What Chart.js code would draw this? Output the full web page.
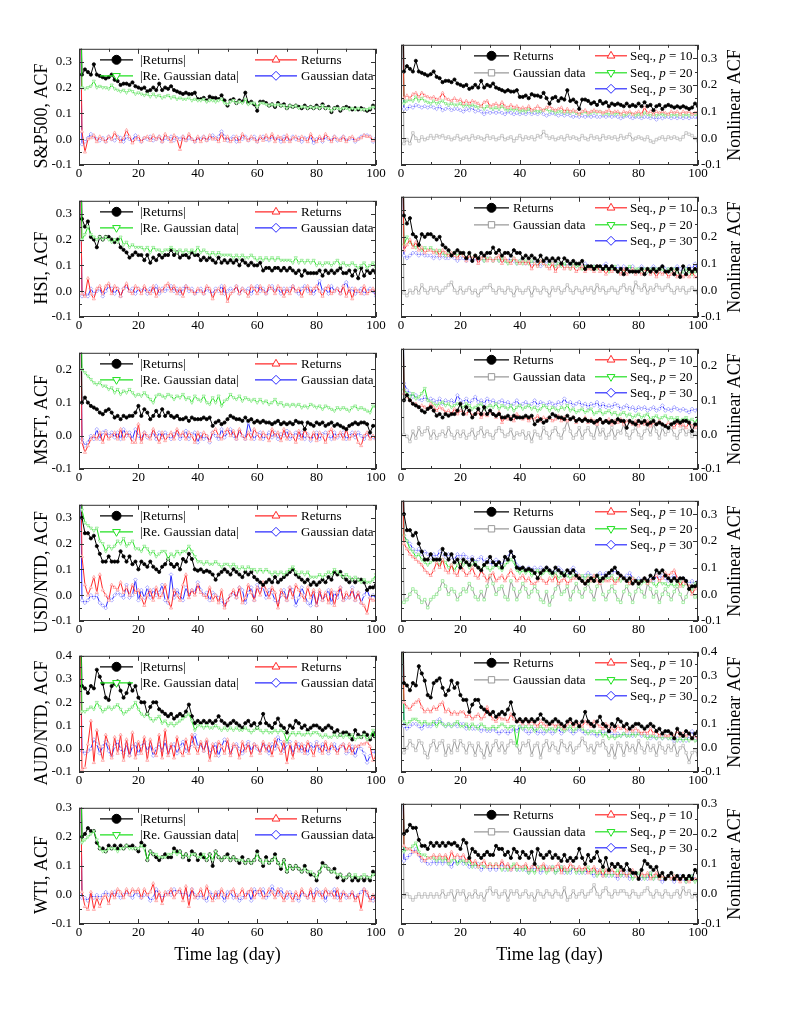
<!DOCTYPE html>
<html>
<head>
<meta charset="utf-8">
<script src="https://cdn.jsdelivr.net/npm/chart.js@4.4.0/dist/chart.umd.min.js"></script>
<style>
body { margin: 0; background: #fff; }
#wrap { position: relative; width: 797px; height: 1032px; }
#wrap canvas { position: absolute; }
</style>
</head>
<body>
<div id="wrap"></div>
<script>
const lags = Array.from({ length: 101 }, (_, i) => i);
const xTicks = [0, 20, 40, 60, 80, 100];
const ticks035 = [-0.1, 0, 0.1, 0.2, 0.3];
const ticks025 = [-0.1, 0, 0.1, 0.2];
const ticks04 = [-0.1, 0, 0.1, 0.2, 0.3, 0.4];
const ticks03 = [-0.1, 0, 0.1, 0.2, 0.3];

// S&P500
const spAbs = [1,
 .25,.27,.26,.25,.29,.25,.245,.24,.235,.24,
 .25,.23,.225,.21,.215,.215,.21,.22,.205,.20,
 .195,.20,.185,.19,.20,.19,.215,.19,.20,.195,
 .205,.19,.185,.18,.175,.18,.175,.175,.18,.155,
 .155,.16,.15,.165,.16,.16,.155,.17,.15,.13,
 .15,.155,.14,.15,.145,.18,.14,.145,.135,.11,
 .145,.145,.14,.13,.135,.125,.14,.13,.135,.12,
 .13,.125,.13,.125,.12,.13,.12,.125,.12,.13,
 .12,.135,.12,.125,.105,.12,.125,.11,.12,.125,
 .12,.115,.12,.115,.12,.115,.11,.115,.13,.12];
const spReG = [1,
 .20,.195,.20,.205,.225,.20,.205,.20,.20,.195,
 .21,.195,.19,.185,.19,.18,.19,.185,.175,.18,
 .175,.17,.175,.165,.175,.165,.17,.16,.165,.17,
 .16,.165,.155,.16,.155,.155,.16,.15,.155,.15,
 .15,.155,.145,.15,.15,.145,.15,.155,.14,.135,
 .145,.15,.14,.145,.14,.155,.135,.14,.14,.125,
 .14,.14,.135,.13,.135,.13,.135,.13,.13,.12,
 .13,.125,.13,.12,.125,.125,.12,.125,.12,.125,
 .12,.13,.12,.12,.11,.12,.12,.115,.12,.12,
 .115,.12,.115,.12,.115,.115,.115,.12,.125,.12];
const spRet = [1,
 .03,-.05,0,.005,.015,-.01,.01,0,-.01,.01,
 0,.025,.005,-.01,.005,.035,.01,-.015,0,.01,
 -.01,.005,.01,-.005,.015,0,.01,-.01,.02,.005,
 -.01,.015,0,-.04,.01,-.005,.02,0,-.01,.01,
 -.01,.01,-.005,.015,0,.005,-.01,.02,-.005,.01,
 -.01,0,.01,-.01,.02,.005,-.005,.01,0,-.01,
 .01,-.005,.015,0,.02,-.01,.01,.005,-.01,.015,
 -.01,.005,.01,-.005,.01,0,-.01,.02,0,-.01,
 .01,-.005,.02,.005,-.01,.01,0,-.005,.01,-.01,
 .005,.01,-.005,0,.005,.015,.01,.01,-.005,0];
const spGau = [1,
 -.02,-.01,.005,.02,.01,0,-.005,.005,-.01,.01,
 0,-.005,.01,.005,-.01,.01,0,-.005,.015,0,
 -.01,.005,0,.01,-.005,0,.01,-.01,.005,0,
 .01,-.005,.005,0,.01,-.005,.005,0,-.01,.005,
 0,.01,-.005,.005,.015,0,.01,.03,.01,-.005,
 0,.01,-.01,.005,0,.01,-.005,.005,.01,-.01,
 .005,.01,0,-.005,.01,0,.005,-.01,.01,0,
 -.005,.01,0,.005,-.01,.005,0,.01,-.015,0,
 .005,-.01,.01,0,-.005,.01,-.005,0,.01,-.005,
 0,.005,-.01,0,.01,.015,.015,.01,-.01,.005];
const spNG = [1,
 -.02,-.005,-.02,.02,0,-.01,.005,-.005,0,.01,
 0,.01,.005,.01,0,.005,-.005,0,.01,-.005,
 0,.005,-.005,.01,0,.005,0,-.005,.01,0,
 .005,-.005,0,.01,-.005,0,.005,-.01,0,.01,
 -.005,.005,0,.005,-.005,.01,.005,.025,.01,0,
 .005,-.005,0,.005,-.005,.01,0,.005,0,-.005,
 .01,0,-.005,.01,0,.005,-.005,.01,0,.005,
 0,.005,-.005,.01,0,.005,.015,-.005,0,.005,
 0,-.005,.005,-.01,-.015,-.005,0,.005,-.005,.005,
 0,.005,0,-.005,.005,.02,.015,.01,0,-.01];
const spS10 = [1,
 .15,.16,.15,.165,.17,.155,.17,.16,.155,.15,
 .155,.145,.15,.17,.15,.145,.14,.15,.14,.145,
 .13,.14,.13,.14,.135,.13,.12,.135,.14,.12,
 .125,.13,.12,.135,.12,.115,.125,.115,.12,.11,
 .115,.11,.12,.105,.11,.12,.11,.105,.115,.12,
 .11,.105,.11,.115,.10,.11,.10,.105,.10,.09,
 .10,.105,.095,.10,.105,.10,.10,.095,.10,.105,
 .095,.10,.10,.09,.10,.095,.10,.09,.095,.10,
 .09,.115,.095,.10,.09,.10,.095,.10,.095,.09,
 .10,.095,.10,.09,.10,.095,.10,.09,.095,.10];
const spS20 = [1,
 .13,.14,.145,.14,.155,.14,.15,.14,.135,.13,
 .14,.13,.135,.14,.13,.125,.13,.125,.125,.13,
 .12,.125,.12,.125,.12,.115,.12,.11,.12,.115,
 .11,.115,.11,.12,.11,.105,.11,.105,.11,.10,
 .105,.10,.11,.10,.105,.10,.10,.105,.11,.10,
 .105,.095,.10,.10,.095,.10,.095,.10,.095,.09,
 .095,.10,.09,.095,.10,.095,.10,.09,.095,.09,
 .095,.09,.095,.09,.085,.09,.095,.09,.085,.09,
 .085,.095,.09,.085,.09,.085,.09,.09,.085,.09,
 .085,.09,.085,.09,.085,.09,.085,.09,.09,.085];
const spS30 = [1,
 .11,.11,.12,.115,.125,.12,.115,.12,.115,.12,
 .115,.11,.12,.105,.11,.115,.105,.11,.11,.105,
 .10,.11,.105,.115,.10,.105,.10,.09,.10,.095,
 .10,.095,.10,.095,.09,.10,.095,.09,.095,.09,
 .095,.09,.10,.09,.095,.09,.10,.09,.085,.09,
 .095,.09,.085,.09,.085,.09,.085,.08,.085,.08,
 .085,.08,.085,.08,.085,.08,.08,.085,.08,.085,
 .08,.085,.08,.075,.08,.085,.08,.075,.08,.08,
 .075,.08,.08,.075,.08,.07,.08,.075,.08,.08,
 .075,.08,.075,.08,.075,.08,.075,.08,.08,.075];

// HSI
const hsiAbs = [1,
 .28,.25,.27,.21,.20,.17,.21,.20,.21,.21,
 .20,.19,.20,.17,.16,.15,.13,.14,.15,.14,
 .14,.12,.14,.11,.13,.12,.14,.13,.14,.14,
 .16,.14,.15,.13,.14,.14,.13,.15,.14,.14,
 .12,.13,.12,.13,.12,.11,.13,.11,.12,.11,
 .12,.11,.12,.10,.12,.11,.10,.11,.10,.10,
 .11,.08,.09,.09,.08,.09,.09,.08,.09,.08,
 .09,.08,.07,.08,.06,.08,.07,.07,.07,.07,
 .08,.06,.08,.07,.08,.07,.08,.09,.07,.07,
 .08,.06,.08,.05,.09,.06,.08,.07,.08,.07];
const hsiReG = [1,
 .20,.22,.25,.22,.21,.20,.21,.20,.21,.20,
 .19,.20,.19,.21,.18,.19,.17,.18,.17,.17,
 .17,.16,.17,.15,.17,.16,.16,.15,.16,.16,
 .17,.16,.15,.16,.15,.16,.15,.16,.15,.17,
 .15,.16,.15,.14,.15,.14,.15,.14,.14,.14,
 .14,.13,.14,.13,.14,.13,.13,.14,.13,.12,
 .13,.12,.13,.12,.13,.12,.13,.12,.12,.12,
 .12,.11,.13,.11,.12,.11,.12,.11,.12,.10,
 .11,.10,.11,.11,.10,.11,.12,.10,.11,.10,
 .10,.11,.10,.09,.10,.11,.09,.10,.11,.09];
const hsiRet = [1,
 -.01,-.02,.05,-.01,-.03,.01,.02,-.01,.02,.03,
 -.01,.02,.01,-.02,.01,.03,0,-.01,.02,.01,
 -.01,.02,0,-.01,.02,-.02,.01,0,.02,.03,
 0,.02,-.01,.01,-.02,.02,.01,0,-.01,.01,
 0,-.01,.02,.01,-.03,0,.01,-.01,.02,-.04,
 -.01,0,.02,-.01,.01,0,-.02,.02,.01,-.01,
 .02,0,-.01,.02,.01,-.01,.02,.01,-.02,.01,
 -.01,.02,0,.01,-.02,.01,.02,-.01,.01,.02,
 0,-.02,.01,.02,-.01,0,.01,-.01,.02,-.02,
 .01,-.03,.01,0,-.01,.02,-.01,0,.01,-.01];
const hsiGau = [1,
 -.02,-.01,-.02,.01,-.01,0,.01,-.02,0,.02,
 .01,-.01,.01,-.02,.01,.02,0,.01,-.01,.01,
 0,.01,-.01,.01,0,.02,-.01,.01,0,.01,
 .02,0,.01,-.01,.01,.02,0,.01,-.01,0,
 .01,-.01,.01,0,-.01,.01,0,.02,-.01,0,
 .01,0,.02,-.01,.01,0,.01,-.01,.01,.02,
 0,.01,-.01,.01,.02,0,.01,-.01,.01,0,
 .01,.02,0,-.01,.01,.02,0,.01,-.01,.01,
 .04,0,.01,-.01,.02,0,.01,-.01,.02,.035,
 0,.01,-.01,0,.01,-.01,0,.01,0,-.02];
const hsiNG = [1,
 -.01,-.02,0,-.01,.01,-.01,.02,0,-.01,.01,
 0,.01,-.01,0,.01,.02,.03,0,-.01,.01,
 -.01,0,.01,-.01,0,-.02,0,.01,.01,.02,
 0,-.01,.01,0,-.01,.01,0,-.02,.01,0,
 -.01,0,.01,-.02,.01,0,-.01,.01,0,-.02,
 .01,0,.01,-.01,0,.02,0,-.01,.01,0,
 -.01,.01,0,.01,-.01,.02,0,.01,-.01,0,
 .01,0,-.01,.01,.02,0,.01,-.01,.03,.01,
 0,.02,-.01,.01,0,.02,.01,0,.01,.02,
 0,-.01,.01,0,.01,-.01,0,.01,0,-.01];
const hsiS10 = [1,
 .15,.17,.19,.16,.18,.15,.16,.14,.15,.15,
 .14,.15,.13,.15,.14,.13,.14,.13,.12,.14,
 .13,.11,.13,.12,.13,.10,.12,.13,.11,.12,
 .11,.12,.13,.10,.12,.11,.10,.12,.11,.10,
 .11,.10,.11,.08,.10,.09,.11,.10,.09,.08,
 .10,.07,.09,.10,.08,.09,.08,.09,.07,.08,
 .09,.07,.08,.08,.07,.09,.07,.08,.06,.08,
 .07,.08,.07,.06,.08,.06,.07,.08,.06,.07,
 .06,.07,.08,.06,.07,.05,.07,.06,.07,.05,
 .06,.07,.05,.06,.05,.06,.05,.07,.05,.05];
const hsiS20 = [1,
 .17,.20,.18,.17,.16,.17,.15,.16,.15,.16,
 .15,.14,.15,.14,.13,.14,.13,.14,.13,.14,
 .13,.12,.13,.12,.13,.12,.12,.11,.12,.12,
 .11,.12,.11,.12,.11,.10,.11,.12,.10,.11,
 .10,.11,.10,.11,.10,.09,.11,.10,.09,.10,
 .10,.09,.10,.09,.10,.09,.08,.10,.09,.09,
 .08,.09,.09,.08,.09,.08,.09,.08,.08,.07,
 .08,.09,.07,.08,.07,.08,.09,.07,.08,.08,
 .07,.08,.07,.08,.07,.08,.07,.08,.07,.08,
 .07,.08,.07,.06,.07,.08,.07,.06,.07,.07];
const hsiS30 = [1,
 .13,.12,.13,.14,.14,.13,.14,.13,.13,.13,
 .12,.13,.12,.13,.12,.12,.13,.12,.11,.12,
 .12,.11,.12,.11,.12,.11,.12,.11,.12,.12,
 .11,.12,.11,.12,.11,.11,.12,.11,.10,.11,
 .11,.10,.11,.10,.11,.10,.09,.10,.11,.10,
 .10,.09,.10,.10,.09,.10,.09,.10,.09,.09,
 .09,.10,.09,.08,.09,.09,.08,.09,.10,.08,
 .09,.08,.09,.08,.09,.08,.08,.09,.07,.08,
 .09,.08,.07,.08,.09,.08,.07,.09,.08,.08,
 .07,.08,.09,.08,.07,.08,.09,.08,.10,.08];

// MSFT
const msAbs = [1,
 .10,.115,.10,.09,.085,.08,.07,.065,.075,.08,
 .07,.055,.06,.05,.06,.055,.06,.06,.07,.09,
 .06,.08,.07,.05,.06,.075,.06,.08,.06,.07,
 .06,.055,.06,.05,.05,.055,.045,.055,.05,.05,
 .05,.055,.05,.055,.03,.04,.045,.035,.04,.05,
 .06,.055,.05,.05,.045,.055,.045,.05,.04,.045,
 .04,.045,.04,.04,.035,.04,.045,.035,.04,.035,
 .04,.035,.045,.04,.04,.02,.04,.035,.03,.04,
 .035,.04,.03,.035,.04,.03,.035,.03,.025,.02,
 .03,.035,.04,.035,.04,.04,.035,.01,.03,.03];
const msReG = [1,
 .20,.19,.18,.17,.16,.155,.16,.15,.15,.14,
 .145,.13,.14,.125,.135,.13,.14,.13,.12,.125,
 .12,.13,.12,.11,.10,.12,.125,.12,.115,.125,
 .12,.11,.12,.115,.125,.11,.115,.10,.12,.11,
 .105,.12,.10,.095,.115,.10,.12,.09,.105,.11,
 .125,.115,.11,.12,.105,.115,.11,.105,.11,.10,
 .11,.10,.105,.095,.10,.11,.095,.10,.09,.095,
 .09,.095,.09,.095,.085,.09,.085,.095,.09,.085,
 .09,.08,.09,.085,.08,.075,.085,.08,.085,.08,
 .075,.085,.09,.08,.085,.08,.075,.07,.09,.085];
const msRet = [1,
 -.02,-.05,-.03,-.01,0,-.01,.01,-.02,.01,-.01,
 0,.01,-.01,.02,-.01,.01,0,-.02,-.02,.035,
 -.02,.01,0,-.01,.02,0,-.02,.01,-.015,0,
 .01,-.01,.02,0,.01,-.01,.01,0,-.02,.01,
 -.01,.01,0,-.015,.01,.02,0,-.01,.01,.02,
 0,.015,-.01,.02,0,-.01,.01,-.01,.02,.005,
 -.01,.01,0,-.015,.02,0,.01,-.015,.02,-.01,
 .01,0,-.02,.015,-.01,.02,0,-.01,.01,-.015,
 .01,0,-.02,.01,.02,-.01,0,.01,-.01,.02,
 -.01,0,.01,-.02,-.03,0,.01,-.01,0,-.01];
const msGau = [1,
 -.01,-.03,-.02,0,-.01,.02,-.01,.01,.015,0,
 .01,-.005,.01,-.01,.02,0,.01,-.01,.02,0,
 -.01,.01,-.005,0,.01,-.01,.01,-.005,.01,0,
 -.01,.005,.01,-.01,0,.015,-.01,.005,.01,-.02,
 .005,-.01,0,-.02,.01,0,-.01,.02,-.005,.01,
 .02,0,-.01,.015,0,-.01,.04,.01,-.01,.005,
 .01,-.01,0,.01,-.005,.01,-.01,.005,0,.015,
 -.01,0,.01,-.005,.01,-.01,.005,-.015,0,.01,
 -.01,.005,.01,0,-.01,.01,-.005,0,.01,-.01,
 0,.01,-.005,.01,0,-.01,.005,0,-.005,-.01];
const msNG = [1,
 0,-.005,-.02,.01,-.01,.02,0,.01,.02,-.01,
 .01,-.01,0,.01,-.005,.02,0,-.01,.01,-.005,
 .01,-.01,0,.015,-.01,.005,.02,-.005,.01,0,
 -.01,.01,.02,.01,-.005,0,.015,-.01,.005,0,
 .01,-.01,.005,-.02,.01,0,-.01,.02,.005,-.01,
 .01,.02,0,-.01,.015,.04,.01,-.01,0,.02,
 -.01,.01,.02,0,-.01,.03,0,.015,-.01,0,
 .02,-.01,.01,.005,.03,0,-.01,.01,.02,0,
 -.01,.01,.02,0,.03,.01,-.01,.02,0,.01,
 .02,0,-.01,.01,.02,0,.01,-.005,.005,-.01];
const msS10 = [1,
 .12,.11,.10,.09,.09,.08,.085,.08,.075,.09,
 .08,.07,.08,.075,.065,.07,.06,.075,.06,.07,
 .065,.06,.07,.055,.06,.065,.05,.06,.055,.065,
 .06,.05,.065,.035,.05,.045,.05,.04,.06,.05,
 .045,.05,.04,.05,.045,.055,.04,.05,.045,.05,
 .04,.045,.055,.04,.05,.04,.045,.05,.035,.045,
 .04,.05,.035,.045,.04,.03,.045,.035,.04,.045,
 .03,.04,.035,.045,.03,.04,.035,.03,.04,.025,
 .035,.03,.04,.025,.035,.03,.04,.03,.025,.035,
 .03,.02,.035,.025,.03,.02,.035,.025,.02,.03];
const msS20 = [1,
 .13,.12,.11,.12,.105,.11,.12,.135,.10,.095,
 .09,.085,.09,.095,.085,.09,.08,.085,.09,.085,
 .08,.09,.085,.075,.08,.085,.09,.075,.08,.085,
 .08,.09,.075,.085,.08,.075,.085,.07,.08,.085,
 .075,.08,.085,.075,.08,.07,.075,.085,.08,.07,
 .08,.075,.07,.08,.075,.085,.07,.075,.065,.07,
 .075,.065,.07,.075,.06,.065,.07,.06,.065,.07,
 .06,.065,.055,.06,.065,.055,.06,.05,.055,.06,
 .05,.055,.06,.045,.05,.055,.045,.05,.055,.045,
 .05,.045,.05,.04,.045,.05,.04,.045,.035,.05];
const msS30 = [1,
 .15,.13,.12,.11,.115,.105,.10,.11,.10,.105,
 .10,.095,.105,.09,.10,.095,.10,.09,.115,.10,
 .095,.105,.09,.10,.11,.095,.10,.09,.105,.095,
 .10,.09,.095,.10,.09,.095,.085,.09,.10,.085,
 .09,.095,.085,.09,.10,.085,.095,.09,.085,.095,
 .09,.085,.095,.09,.105,.09,.095,.085,.09,.095,
 .085,.09,.08,.09,.085,.095,.08,.09,.08,.085,
 .08,.09,.085,.075,.08,.085,.075,.08,.07,.08,
 .075,.08,.07,.075,.08,.07,.075,.085,.07,.075,
 .07,.08,.075,.07,.075,.07,.065,.075,.07,.075];

// USD/NTD
const udAbs = [1,
 .30,.24,.24,.22,.23,.19,.16,.13,.13,.15,
 .13,.13,.13,.17,.15,.13,.15,.12,.13,.10,
 .13,.12,.11,.13,.11,.10,.09,.11,.12,.14,
 .12,.11,.12,.10,.14,.13,.16,.14,.10,.095,
 .10,.09,.095,.09,.08,.06,.08,.09,.10,.09,
 .08,.10,.09,.08,.07,.09,.08,.09,.07,.06,
 .05,.04,.05,.06,.05,.07,.05,.06,.07,.08,
 .09,.10,.08,.07,.06,.05,.06,.04,.05,.04,
 .05,.06,.05,.07,.06,.09,.08,.09,.07,.06,
 .05,.06,.05,.06,.06,.05,.02,.03,.03,.04];
const udReG = [1,
 .33,.28,.27,.26,.25,.26,.21,.20,.17,.19,
 .18,.19,.21,.20,.22,.19,.20,.21,.18,.18,
 .17,.19,.18,.16,.17,.15,.16,.17,.17,.14,
 .16,.15,.17,.16,.17,.17,.19,.17,.15,.13,
 .13,.12,.13,.12,.12,.13,.12,.11,.12,.12,
 .11,.12,.11,.10,.11,.10,.11,.10,.10,.09,
 .10,.09,.10,.09,.08,.09,.08,.09,.08,.09,
 .10,.11,.09,.08,.09,.08,.09,.07,.07,.07,
 .08,.07,.08,.09,.08,.10,.09,.08,.07,.08,
 .07,.06,.07,.06,.05,.06,.05,.05,.06,.08];
const udRet = [1,
 .15,.04,0,.03,.07,.01,.08,.02,0,-.02,
 .04,.03,.02,.05,.01,.03,0,.04,.01,.02,
 -.01,-.04,0,.02,-.02,.03,-.01,0,.04,-.02,
 -.05,.02,0,-.02,.04,.08,-.01,.02,0,.04,
 .01,0,-.01,.03,-.02,0,-.03,.02,-.05,-.02,
 0,.02,-.01,.03,-.03,-.01,.04,.01,-.02,.03,
 0,.05,.02,-.01,.03,.01,-.05,.02,0,-.02,
 .03,-.01,.04,.02,0,-.02,.03,-.01,.02,-.04,
 .02,-.02,.01,-.03,.02,-.04,.01,.03,-.02,.01,
 -.01,.02,-.02,.01,-.03,-.04,-.07,-.01,-.02,-.02];
const udGau = [1,
 -.02,-.03,-.02,0,-.01,0,-.03,-.04,-.05,-.01,
 -.02,0,.01,0,-.01,.04,-.01,0,.06,-.02,
 .02,-.01,.03,-.01,.02,0,.01,.04,-.02,-.03,
 .08,-.01,.02,0,-.02,.03,0,.02,.01,.05,
 .02,0,.01,-.02,.01,0,-.01,-.02,-.04,-.02,
 0,.01,-.01,.03,.02,-.03,.01,.03,-.02,.04,
 .02,.03,-.01,.02,.01,-.02,-.03,0,.02,-.02,
 .03,.02,-.04,-.01,.03,0,-.03,-.04,.01,-.04,
 .01,-.02,0,.02,-.03,.01,-.01,.03,-.02,-.01,
 -.01,.03,-.02,.01,-.03,0,.02,-.01,0,-.01];
const udNG = [1,
 -.03,-.02,0,.02,.01,-.01,-.03,-.02,-.05,-.02,
 -.01,0,.02,.05,.03,0,.02,.01,-.02,0,
 .02,.01,.04,.02,-.01,-.02,.01,-.02,.03,.07,
 .04,0,.02,.03,-.01,-.02,.05,.02,-.02,.01,
 .04,.02,-.01,.01,.03,.01,-.02,-.03,.01,-.04,
 -.01,.02,.04,0,.01,.03,-.02,.01,.04,.01,
 -.01,.02,.04,.01,-.02,.03,.05,0,-.02,.01,
 .03,.01,-.02,-.03,.01,.03,0,-.03,.01,.03,
 .01,-.01,.04,.02,-.01,.01,-.03,0,.02,0,
 -.02,.01,.03,0,-.03,-.01,.02,.01,-.01,-.01];
const udS10 = [1,
 .19,.17,.15,.14,.13,.12,.11,.09,.08,.07,
 .09,.12,.10,.13,.09,.08,.11,.08,.07,.11,
 .09,.07,.08,.10,.07,.06,.09,.07,.05,.07,
 .08,.05,.06,.07,.05,.07,.09,.07,.05,.06,
 .07,.05,.06,.04,.04,.05,.06,.05,.04,.06,
 .05,.07,.04,.05,.06,.04,.05,.06,.06,.07,
 .05,.04,.06,.05,.07,.05,.04,.06,.05,.05,
 .06,.04,.05,.07,.06,.05,.04,.06,.05,.04,
 .05,.06,.04,.05,.06,.07,.05,.06,.08,.07,
 .08,.09,.06,.03,.05,.04,.03,0,.02,.03];
const udS20 = [1,
 .22,.20,.17,.16,.14,.15,.13,.12,.11,.12,
 .13,.12,.11,.13,.12,.10,.11,.09,.11,.12,
 .11,.12,.10,.11,.12,.10,.09,.11,.10,.09,
 .10,.11,.10,.09,.11,.12,.13,.12,.09,.08,
 .09,.08,.09,.07,.08,.09,.07,.08,.09,.08,
 .07,.08,.06,.07,.08,.07,.06,.07,.07,.06,
 .07,.06,.07,.05,.06,.07,.06,.05,.06,.06,
 .07,.05,.06,.05,.06,.05,.04,.06,.05,.05,
 .04,.05,.04,.05,.04,.03,.05,.04,.04,.03,
 .04,.03,.04,.05,.03,.04,.03,.02,.04,.03];
const udS30 = [1,
 .22,.20,.19,.17,.16,.17,.15,.16,.15,.14,
 .15,.14,.16,.15,.14,.15,.14,.13,.15,.14,
 .15,.14,.13,.14,.12,.13,.14,.12,.13,.12,
 .11,.13,.12,.11,.13,.14,.16,.14,.11,.10,
 .10,.09,.10,.09,.10,.09,.10,.09,.10,.09,
 .08,.09,.10,.09,.08,.07,.09,.10,.08,.07,
 .06,.07,.08,.07,.06,.07,.08,.07,.08,.07,
 .08,.09,.08,.07,.06,.07,.08,.06,.05,.06,
 .05,.06,.05,.06,.05,.07,.06,.07,.06,.05,
 .06,.07,.06,.05,.06,.05,.04,.05,.04,.05];

// AUD/NTD
const adAbs = [1,
 .27,.26,.24,.27,.26,.34,.31,.28,.22,.21,
 .27,.28,.29,.25,.22,.24,.28,.25,.27,.22,
 .20,.20,.15,.18,.20,.20,.17,.16,.15,.14,
 .15,.13,.14,.15,.14,.16,.19,.14,.11,.12,
 .11,.12,.11,.12,.11,.12,.14,.12,.11,.10,
 .11,.12,.11,.10,.09,.11,.12,.10,.11,.09,
 .11,.15,.11,.10,.09,.11,.13,.10,.09,.07,
 .10,.09,.12,.11,.09,.10,.08,.09,.10,.10,
 .09,.08,.09,.10,.09,.07,.08,.06,.07,.07,
 .06,.04,.08,.06,.05,.07,.06,.04,.06,.07];
const adReG = [1,
 .16,.16,.17,.18,.17,.20,.18,.16,.17,.18,
 .17,.18,.19,.17,.15,.16,.17,.18,.20,.17,
 .15,.14,.15,.13,.12,.13,.14,.11,.12,.10,
 .11,.10,.11,.12,.13,.14,.15,.12,.08,.10,
 .10,.09,.10,.09,.09,.10,.09,.08,.09,.08,
 .09,.08,.09,.08,.08,.09,.08,.07,.08,.09,
 .08,.07,.08,.07,.07,.08,.07,.08,.07,.03,
 .06,.07,.06,.07,.06,.06,.07,.06,.07,.07,
 .06,.05,.06,.05,.05,.06,.05,.06,.05,.06,
 .05,.06,.04,.05,.05,.06,.04,.05,.08,.04];
const adRet = [1,
 -.09,-.08,.02,.12,-.06,.08,.01,-.05,.06,.02,
 -.04,.05,-.02,.06,-.05,.04,-.03,.07,-.04,.03,
 -.02,.05,-.05,.04,-.01,-.03,.06,-.04,.08,-.03,
 .02,-.04,.05,-.01,-.03,.04,-.02,.06,.01,-.02,
 .03,-.01,.04,-.05,.02,-.03,.03,.01,-.02,.04,
 -.03,.02,.01,-.04,.03,-.01,.02,-.03,.02,.01,
 -.02,.03,-.01,.02,-.03,.04,.01,-.02,.03,-.06,
 .02,-.04,.03,-.01,.02,-.02,.03,0,-.03,.02,
 .01,-.02,.03,-.01,.02,0,-.02,.01,.02,-.01,
 .02,-.02,.01,.01,.02,.02,.03,.01,-.05,-.03];
const adGau = [1,
 -.01,-.02,-.01,0,.04,.02,-.02,.01,.03,-.01,
 -.03,.01,.03,0,-.02,.02,-.03,.01,.02,-.02,
 .01,.03,-.01,.02,-.03,0,.02,-.01,.03,-.02,
 .01,.02,-.02,.01,.03,-.01,0,.02,.06,.01,
 .02,-.01,.03,-.02,0,.02,-.03,.01,.04,.02,
 -.02,.01,.02,0,-.02,.01,.03,-.01,.02,0,
 -.01,.02,.01,-.02,.02,0,.05,.03,-.01,.02,
 .03,-.02,.01,.02,-.01,.01,-.02,.02,0,.03,
 -.01,.02,0,-.02,.01,.02,-.01,.01,.02,-.02,
 -.01,.01,-.03,.01,0,-.02,-.06,-.03,-.01,-.02];
const adNG = [1,
 -.02,0,.03,.01,-.01,.03,.02,-.02,-.04,.01,
 .03,-.01,.02,.03,-.03,.01,-.02,.03,-.01,.03,
 .01,-.02,.02,.01,-.03,.02,-.01,-.04,.02,-.03,
 .01,.03,-.01,.02,-.02,.01,.03,.02,.01,-.02,
 .02,.01,.03,-.03,.01,.02,-.04,.01,.03,-.01,
 .02,0,-.02,.03,.01,-.01,.02,-.02,0,.01,
 .04,.02,-.01,.01,-.02,.02,.01,.03,0,-.03,
 .01,-.04,.02,.01,-.03,.02,-.01,.01,-.02,.03,
 0,-.02,.02,-.01,.01,-.03,.02,0,-.02,.01,
 -.01,.02,-.03,0,.01,-.02,-.06,-.02,-.01,-.03];
const adS10 = [1,
 .19,.17,.16,.18,.19,.20,.17,.15,.16,.15,
 .17,.16,.18,.19,.15,.16,.14,.15,.14,.15,
 .15,.13,.14,.12,.13,.14,.12,.13,.17,.14,
 .12,.11,.13,.12,.12,.11,.14,.12,.11,.11,
 .10,.12,.10,.11,.10,.09,.11,.10,.09,.10,
 .10,.09,.10,.09,.08,.10,.11,.09,.10,.10,
 .09,.11,.10,.09,.11,.10,.09,.08,.10,.09,
 .08,.07,.09,.08,.09,.07,.08,.07,.08,.07,
 .06,.07,.06,.08,.06,.07,.05,.06,.05,.05,
 .06,.05,.07,.05,.06,.05,.06,.04,.05,.04];
const adS20 = [1,
 .11,.10,.11,.12,.12,.11,.10,.11,.10,.10,
 .11,.09,.11,.10,.09,.10,.09,.10,.11,.09,
 .09,.10,.08,.10,.09,.08,.10,.09,.08,.08,
 .09,.08,.09,.10,.09,.08,.09,.09,.01,.09,
 .08,.09,.08,.09,.07,.08,.09,.08,.07,.08,
 .08,.07,.09,.08,.07,.08,.09,.07,.08,.09,
 .08,.07,.06,.07,.07,.06,.07,.05,.06,.04,
 .05,.04,.05,.05,.06,.05,.05,.06,.05,.06,
 .06,.05,.04,.05,.05,.04,.05,.04,.05,.04,
 .04,.05,.03,.04,.03,.04,.03,.04,.03,.03];
const adS30 = [1,
 .09,.08,.09,.10,.10,.09,.08,.10,.09,.09,
 .10,.11,.12,.10,.09,.10,.09,.10,.09,.10,
 .10,.08,.09,.08,.08,.09,.07,.08,.07,.07,
 .08,.07,.06,.07,.07,.06,.07,.08,.07,.09,
 .08,.07,.06,.07,.08,.06,.07,.06,.07,.07,
 .06,.07,.08,.06,.07,.08,.07,.06,.07,.08,
 .07,.06,.07,.06,.06,.05,.06,.07,.06,.07,
 .06,.05,.06,.05,.06,.05,.06,.05,.06,.06,
 .05,.06,.05,.04,.05,.04,.05,.04,.05,.04,
 .04,.03,.04,.03,.04,.03,.05,.07,.04,.03];

// WTI
const wtAbs = [1,
 .20,.21,.23,.22,.22,.18,.16,.16,.15,.17,
 .16,.17,.16,.17,.16,.17,.165,.17,.16,.15,
 .18,.17,.12,.15,.14,.13,.12,.13,.14,.13,
 .13,.16,.15,.15,.13,.14,.12,.15,.14,.12,
 .14,.13,.12,.14,.10,.15,.13,.12,.13,.14,
 .12,.13,.12,.11,.13,.11,.12,.11,.12,.15,
 .12,.10,.13,.11,.12,.14,.11,.09,.12,.08,
 .10,.09,.10,.09,.08,.10,.08,.07,.07,.05,
 .08,.11,.10,.09,.08,.09,.06,.07,.05,.06,
 .07,.05,.06,.05,.06,.05,.06,.05,.08,.07];
const wtReG = [1,
 .18,.19,.20,.21,.22,.19,.16,.15,.15,.16,
 .16,.16,.15,.16,.16,.17,.16,.16,.16,.16,
 .17,.16,.12,.15,.14,.14,.13,.13,.13,.14,
 .14,.15,.14,.15,.13,.14,.13,.14,.14,.13,
 .13,.14,.12,.14,.12,.15,.13,.12,.13,.13,
 .12,.13,.12,.12,.12,.11,.12,.11,.12,.14,
 .12,.11,.12,.11,.12,.13,.11,.10,.12,.08,
 .10,.09,.10,.09,.08,.09,.08,.08,.07,.06,
 .08,.10,.10,.09,.08,.08,.07,.07,.06,.06,
 .07,.06,.07,.06,.06,.07,.06,.06,.07,.07];
const wtRet = [1,
 .01,-.04,-.05,.01,-.05,-.01,-.04,-.01,0,-.03,
 .01,-.01,.02,.01,-.01,.02,0,.02,.01,.02,
 -.01,.02,0,.01,.04,-.02,.01,-.03,.01,0,
 .02,-.01,.01,.02,-.02,.03,-.04,.02,-.01,0,
 .02,-.01,.03,0,-.02,.01,-.01,.02,0,-.01,
 .01,.02,-.01,0,.02,-.01,.01,.02,-.01,.01,
 .02,-.01,0,.02,.01,-.01,.02,0,-.02,.01,
 0,-.02,.01,-.01,.02,0,-.01,.02,-.02,.01,
 .01,-.01,.02,0,.01,-.01,.02,-.02,.01,0,
 -.01,.01,-.02,0,-.05,.02,.01,-.02,0,-.02];
const wtGau = [1,
 -.01,-.01,-.02,0,-.01,0,-.01,0,.01,0,
 0,.01,0,-.01,0,.01,0,-.01,.01,0,
 -.01,0,0,-.02,-.01,.02,0,-.01,0,.01,
 0,.02,.01,.01,0,.01,-.01,.02,0,-.01,
 0,-.01,-.02,.01,0,-.01,.01,0,-.02,.01,
 .01,-.01,0,-.02,-.01,0,.01,-.02,.02,.01,
 0,.02,-.01,0,.03,.01,0,.02,0,-.01,
 .01,0,-.01,-.02,.01,0,-.01,.01,0,.02,
 0,.01,-.02,.01,0,.02,-.01,0,.01,-.01,
 0,.01,-.01,0,.01,.02,0,-.01,-.02,0];
const wtNG = [1,
 -.01,0,-.01,-.02,-.01,0,-.01,0,-.01,0,
 -.01,0,-.01,.01,-.01,0,.01,-.02,.01,0,
 .01,-.02,0,-.01,.01,-.01,0,-.02,.01,.02,
 0,.01,-.01,0,.01,-.02,.01,0,.01,-.01,
 0,.01,-.01,0,-.02,.01,0,-.01,.01,0,
 -.01,.01,0,-.01,.02,-.02,-.01,.01,-.01,0,
 .01,-.01,0,.01,.03,0,-.01,.01,.02,0,
 -.01,.01,0,.01,.01,0,-.01,.01,0,-.01,
 0,.01,.02,0,-.01,.01,0,-.01,.01,0,
 -.01,0,.01,-.01,.02,0,.01,-.01,0,-.02];
const wtS10 = [1,
 .16,.15,.15,.14,.14,.13,.12,.11,.12,.12,
 .13,.12,.13,.12,.13,.11,.14,.12,.13,.12,
 .13,.11,.12,.10,.11,.09,.10,.11,.09,.10,
 .09,.10,.09,.11,.09,.10,.08,.09,.10,.09,
 .09,.10,.08,.09,.10,.08,.09,.10,.08,.09,
 .08,.09,.10,.07,.09,.08,.10,.09,.08,.09,
 .08,.09,.07,.08,.09,.07,.08,.06,.08,.07,
 .08,.07,.06,.08,.07,.06,.07,.08,.06,.05,
 .07,.06,.07,.05,.06,.07,.05,.06,.05,.06,
 .05,.06,.05,.04,.06,.05,.04,.05,.05,.05];
const wtS20 = [1,
 .14,.15,.15,.16,.17,.14,.13,.13,.12,.12,
 .12,.11,.12,.11,.12,.10,.11,.12,.10,.11,
 .11,.10,.11,.09,.10,.09,.10,.09,.09,.10,
 .09,.10,.09,.08,.09,.08,.09,.10,.08,.09,
 .08,.09,.07,.08,.07,.09,.08,.09,.07,.08,
 .09,.07,.08,.09,.08,.07,.08,.09,.07,.08,
 .07,.08,.09,.07,.08,.06,.07,.08,.06,.07,
 .06,.07,.08,.06,.07,.06,.07,.05,.06,.07,
 .06,.05,.06,.07,.05,.06,.05,.06,.05,.06,
 .05,.06,.05,.05,.06,.04,.05,.06,.04,.05];
const wtS30 = [1,
 .11,.12,.13,.14,.15,.13,.11,.11,.10,.10,
 .11,.10,.11,.10,.11,.10,.09,.11,.10,.12,
 .10,.11,.09,.10,.09,.10,.08,.09,.09,.08,
 .09,.08,.09,.10,.08,.09,.08,.09,.08,.08,
 .09,.08,.07,.09,.08,.09,.07,.08,.09,.08,
 .09,.07,.08,.09,.07,.08,.07,.09,.08,.07,
 .08,.07,.08,.07,.06,.08,.07,.06,.07,.06,
 .07,.06,.05,.07,.06,.07,.05,.06,.07,.06,
 .05,.06,.05,.07,.05,.06,.05,.04,.05,.06,
 .05,.04,.05,.06,.05,.04,.05,.06,.05,.05];

const panels = [
  { name: 'S&P500', yMax: 0.35, yTicks: ticks035, abs: spAbs, reg: spReG, ret: spRet, gau: spGau, ng: spNG, s10: spS10, s20: spS20, s30: spS30 },
  { name: 'HSI', yMax: 0.35, yTicks: ticks035, abs: hsiAbs, reg: hsiReG, ret: hsiRet, gau: hsiGau, ng: hsiNG, s10: hsiS10, s20: hsiS20, s30: hsiS30 },
  { name: 'MSFT', yMax: 0.25, yTicks: ticks025, abs: msAbs, reg: msReG, ret: msRet, gau: msGau, ng: msNG, s10: msS10, s20: msS20, s30: msS30 },
  { name: 'USD/NTD', yMax: 0.35, yTicks: ticks035, abs: udAbs, reg: udReG, ret: udRet, gau: udGau, ng: udNG, s10: udS10, s20: udS20, s30: udS30, ngMark: '#8fe88f' },
  { name: 'AUD/NTD', yMax: 0.4, yTicks: ticks04, abs: adAbs, reg: adReG, ret: adRet, gau: adGau, ng: adNG, s10: adS10, s20: adS20, s30: adS30 },
  { name: 'WTI', yMax: 0.3, yTicks: ticks03, abs: wtAbs, reg: wtReG, ret: wtRet, gau: wtGau, ng: wtNG, s10: wtS10, s20: wtS20, s30: wtS30 }
];

const serif = "'Liberation Serif', 'Times New Roman', serif";
const BLACK = '#000', GREEN = '#22e022', RED = '#ff2a2a', BLUE = '#2a2aff', GREY = '#9a9a9a';
const rowTops = [44, 196, 348, 500, 651, 803];
const plotH = 121;

// legend rows, relative to the plot area: line from x0 to x1, text at tx
const leftLegend = [
  { x0: 21, x1: 54, tx: 61, y: 11, color: BLACK, style: 'circle', filled: true, parts: [['|Returns|']] },
  { x0: 21, x1: 54, tx: 61, y: 27, color: GREEN, style: 'triangle', rot: 180, parts: [['|Re. Gaussian data|']] },
  { x0: 176, x1: 218, tx: 222, y: 11, color: RED, style: 'triangle', parts: [['Returns']] },
  { x0: 176, x1: 218, tx: 222, y: 27, color: BLUE, style: 'rectRot', parts: [['Gaussian data']] }
];
const rightLegend = [
  { x0: 73, x1: 108, tx: 112, y: 11, color: BLACK, style: 'circle', filled: true, parts: [['Returns']] },
  { x0: 73, x1: 108, tx: 112, y: 28, color: GREY, style: 'rect', parts: [['Gaussian data']] },
  { x0: 194, x1: 226, tx: 229, y: 11, color: RED, style: 'triangle', parts: [['Seq., '], ['p', true], [' = 10']] },
  { x0: 194, x1: 226, tx: 229, y: 28, color: GREEN, style: 'triangle', rot: 180, parts: [['Seq., '], ['p', true], [' = 20']] },
  { x0: 194, x1: 226, tx: 229, y: 44, color: BLUE, style: 'rectRot', parts: [['Seq., '], ['p', true], [' = 30']] }
];

const framePlugin = {
  id: 'frame',
  afterDatasetsDraw(chart) {
    const { ctx, chartArea: a, scales } = chart;
    const x = scales.x, y = scales.y;
    ctx.save();
    ctx.strokeStyle = '#333';
    ctx.lineWidth = 1;
    ctx.strokeRect(a.left + 0.5, a.top + 0.5, a.right - a.left - 1, a.bottom - a.top - 1);
    ctx.beginPath();
    for (let v = 0; v <= 100; v += 10) {
      const px = Math.round(x.getPixelForValue(v)) + 0.5;
      const len = v % 20 === 0 ? 5 : 3;
      ctx.moveTo(px, a.bottom); ctx.lineTo(px, a.bottom - len);
      ctx.moveTo(px, a.top); ctx.lineTo(px, a.top + len);
    }
    for (let k = -2; k * 0.05 <= y.max + 1e-9; k++) {
      const py = Math.round(y.getPixelForValue(k * 0.05)) + 0.5;
      const len = k % 2 === 0 ? 5 : 3;
      ctx.moveTo(a.left, py); ctx.lineTo(a.left + len, py);
      ctx.moveTo(a.right, py); ctx.lineTo(a.right - len, py);
    }
    ctx.stroke();
    ctx.restore();
  }
};

function rotatedTitle(ctx, text, x, y) {
  ctx.save();
  ctx.translate(x, y);
  ctx.rotate(-Math.PI / 2);
  ctx.font = '18px ' + serif;
  ctx.fillStyle = '#000';
  ctx.textAlign = 'center';
  ctx.textBaseline = 'middle';
  ctx.fillText(text, 0, 0);
  ctx.restore();
}

const boxPlugin = {
  id: 'box',
  afterDraw(chart, args, opts) {
    const { ctx, chartArea: a } = chart;
    ctx.save();
    (opts.items || []).forEach(it => {
      const y = a.top + it.y;
      ctx.strokeStyle = it.color;
      ctx.lineWidth = 1.2;
      ctx.beginPath();
      ctx.moveTo(a.left + it.x0, y);
      ctx.lineTo(a.left + it.x1, y);
      ctx.stroke();
      ctx.fillStyle = it.filled ? it.color : '#fff';
      ctx.lineWidth = 1;
      Chart.helpers.drawPoint(ctx, { pointStyle: it.style, radius: 4.5, rotation: it.rot || 0, borderWidth: 1 },
        a.left + (it.x0 + it.x1) / 2, y);
      ctx.fillStyle = '#000';
      ctx.textBaseline = 'middle';
      ctx.textAlign = 'left';
      let tx = a.left + it.tx;
      it.parts.forEach(([t, ital]) => {
        ctx.font = (ital ? 'italic ' : '') + '13px ' + serif;
        ctx.fillText(t, tx, y + 1);
        tx += ctx.measureText(t).width;
      });
    });
    ctx.restore();
    const mid = (a.top + a.bottom) / 2;
    if (opts.leftTitle) rotatedTitle(ctx, opts.leftTitle, a.left - 37, mid + 9);
    if (opts.rightTitle) rotatedTitle(ctx, opts.rightTitle, a.right + 37, mid);
  }
};
Chart.register(framePlugin, boxPlugin);

const wrap = document.getElementById('wrap');
function addCanvas(left, top, w, h) {
  const c = document.createElement('canvas');
  c.width = w; c.height = h;
  c.style.left = left + 'px'; c.style.top = top + 'px';
  c.style.width = w + 'px'; c.style.height = h + 'px';
  wrap.appendChild(c);
  return c;
}

function line(data, color, style, mark, order, extra) {
  return Object.assign({
    data: data,
    borderColor: color,
    borderWidth: 1,
    pointStyle: style,
    pointRadius: 1.8,
    pointBorderWidth: 0.8,
    pointBorderColor: mark,
    pointBackgroundColor: '#fff',
    order: order,
    tension: 0
  }, extra || {});
}
const blackLine = (data, order) => line(data, BLACK, 'circle', BLACK, order, { pointBackgroundColor: BLACK, pointRadius: 1.6 });

function xScale(bottom) {
  return {
    type: 'linear', min: 0, max: 100,
    grid: { display: false, drawTicks: false },
    border: { display: false },
    afterBuildTicks: s => { s.ticks = xTicks.map(v => ({ value: v })); },
    afterFit: s => { s.height = bottom ? 46 : 22; },
    ticks: { font: { family: serif, size: 13 }, color: '#000', padding: 1, maxRotation: 0, autoSkip: false },
    title: { display: bottom, text: 'Time lag (day)', color: '#000', font: { family: serif, size: 18 }, padding: { top: 4, bottom: 4 } }
  };
}
function yScale(p, pos) {
  return {
    position: pos, min: -0.1, max: p.yMax,
    grid: { display: false, drawTicks: false },
    border: { display: false },
    afterBuildTicks: s => { s.ticks = p.yTicks.map(v => ({ value: v })); },
    afterFit: s => { s.width = pos === 'left' ? 52 : 50; },
    ticks: { font: { family: serif, size: 13 }, color: '#000', padding: pos === 'left' ? 7 : 3,
      callback: v => v.toFixed(1) }
  };
}

panels.forEach((p, i) => {
  const bottom = i === panels.length - 1;
  const h = 10 + plotH + (bottom ? 46 : 22);
  const top = rowTops[i] - 10;

  new Chart(addCanvas(0, top, 392, h), {
    type: 'line',
    data: {
      labels: lags,
      datasets: [
        blackLine(p.abs, 1),
        line(p.reg, GREEN, 'triangle', '#8ae88a', 0, { pointRotation: 180 }),
        line(p.ret, RED, 'triangle', '#ff9a9a', 2),
        line(p.gau, BLUE, 'rectRot', '#9a9aff', 3)
      ]
    },
    options: {
      responsive: false, animation: false, events: [],
      layout: { padding: { left: 27, top: 10, right: 16, bottom: 0 } },
      scales: { x: xScale(bottom), y: yScale(p, 'left') },
      plugins: { legend: { display: false }, tooltip: { enabled: false },
        box: { items: leftLegend, leftTitle: p.name + ', ACF' } }
    }
  });

  new Chart(addCanvas(380, top, 390, h), {
    type: 'line',
    data: {
      labels: lags,
      datasets: [
        blackLine(p.abs, 0),
        line(p.s10, RED, 'triangle', '#ff9a9a', 1),
        line(p.s20, GREEN, 'triangle', '#8ae88a', 2, { pointRotation: 180 }),
        line(p.s30, BLUE, 'rectRot', '#9a9aff', 3),
        line(p.ng, GREY, 'rect', p.ngMark || '#bdbdbd', 4)
      ]
    },
    options: {
      responsive: false, animation: false, events: [],
      layout: { padding: { left: 21, top: 10, right: 22, bottom: 0 } },
      scales: { x: xScale(bottom), y: yScale(p, 'right') },
      plugins: { legend: { display: false }, tooltip: { enabled: false },
        box: { items: rightLegend, rightTitle: 'Nonlinear ACF' } }
    }
  });
});
</script>
</body>
</html>
